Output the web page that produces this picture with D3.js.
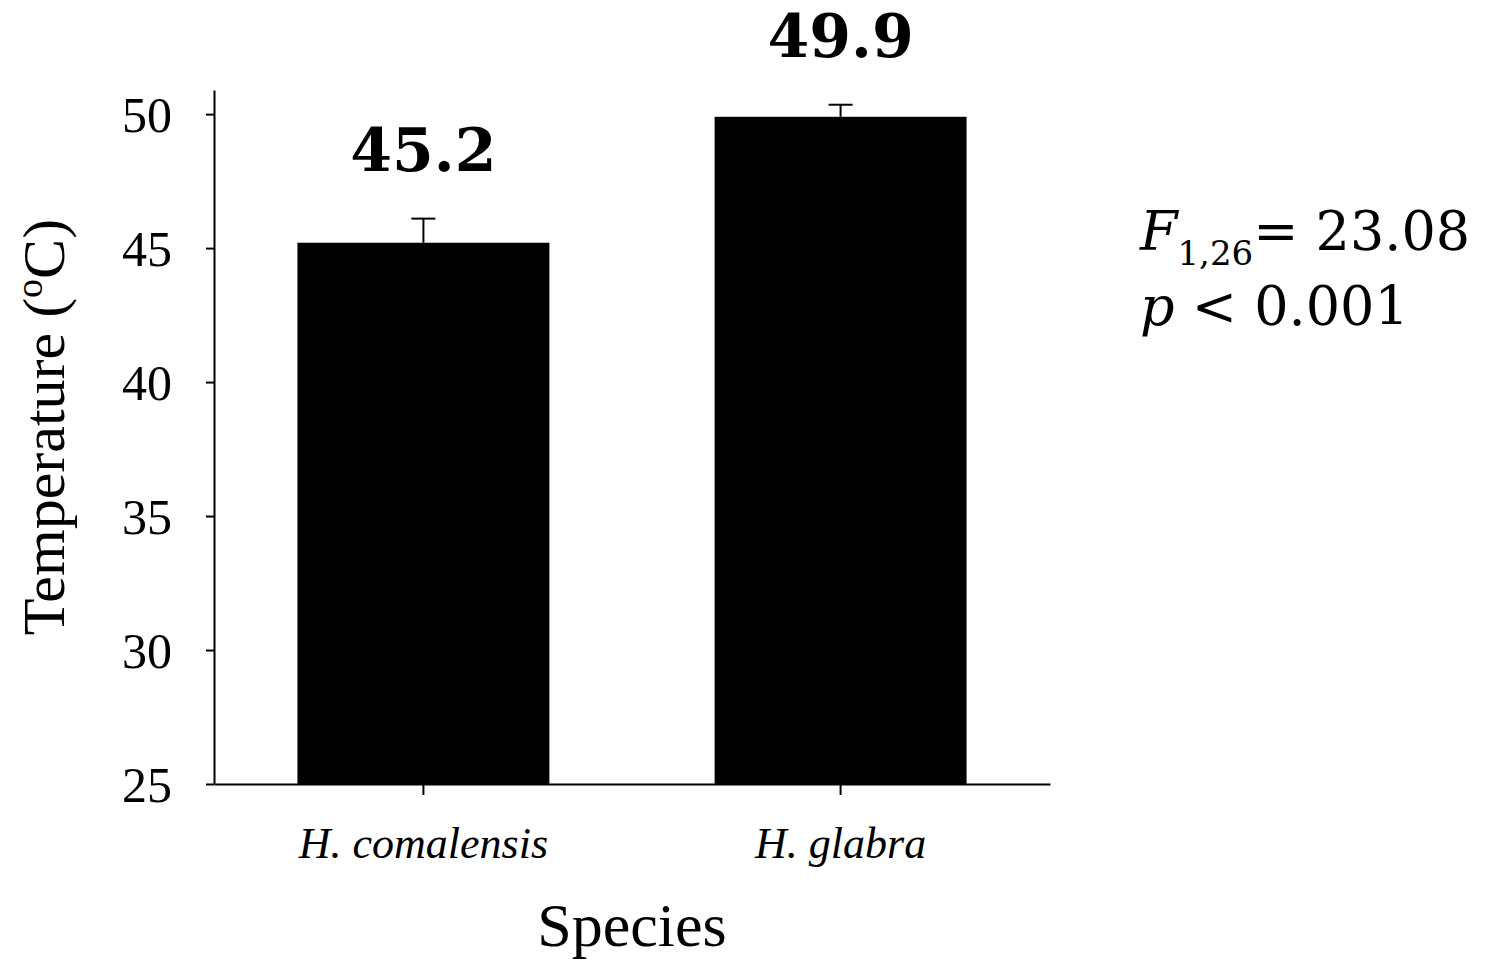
<!DOCTYPE html>
<html>
<head>
<meta charset="utf-8">
<script src="https://cdnjs.cloudflare.com/ajax/libs/d3/7.8.5/d3.min.js"></script>
<style>
  body { margin: 0; background: #fff; }
  svg { display: block; }
</style>
</head>
<body>
<div id="chart"></div>
<script>
// Data
const species = ['H. comalensis', 'H. glabra'];
const means = [45.2, 49.9];
const errors = [0.9, 0.45];
const yTicks = [25, 30, 35, 40, 45, 50];

const width = 1498, height = 960;

const svg = d3.select('#chart')
  .append('svg')
  .attr('width', width)
  .attr('height', height);

// Scales
const x = d3.scaleBand()
  .domain(species)
  .range([214, 1050])
  .paddingInner(0.396)
  .paddingOuter(0.2);

const y = d3.scaleLinear()
  .domain([25, 50.9])
  .range([784, 90]);

// Bars
svg.append('g')
  .selectAll('rect')
  .data(means)
  .join('rect')
  .attr('x', (d, i) => x(species[i]))
  .attr('y', d => y(d))
  .attr('width', x.bandwidth())
  .attr('height', d => y(25) - y(d))
  .attr('fill', '#000');

// Error bars (upper only)
const err = svg.append('g')
  .attr('stroke', '#000')
  .attr('stroke-width', 2);

means.forEach((m, i) => {
  const cx = x(species[i]) + x.bandwidth() / 2;
  err.append('line')
    .attr('x1', cx).attr('x2', cx)
    .attr('y1', y(m)).attr('y2', y(m + errors[i]));
  err.append('line')
    .attr('x1', cx - 12).attr('x2', cx + 12)
    .attr('y1', y(m + errors[i])).attr('y2', y(m + errors[i]));
});

// Value labels
svg.append('g')
  .selectAll('text')
  .data(means)
  .join('text')
  .attr('x', (d, i) => x(species[i]) + x.bandwidth() / 2)
  .attr('y', (d, i) => y(d + errors[i]) - 48)
  .attr('text-anchor', 'middle')
  .attr('font-family', 'DejaVu Serif')
  .attr('font-weight', 'bold')
  .attr('font-size', 60)
  .text(d => d.toFixed(1));

// Y axis
const yAxis = svg.append('g')
  .attr('transform', 'translate(214,0)')
  .call(d3.axisLeft(y).tickValues(yTicks).tickSize(8).tickSizeOuter(0).tickPadding(34));

// X axis
const xAxis = svg.append('g')
  .attr('transform', `translate(0,${y(25)})`)
  .call(d3.axisBottom(x).tickSize(11).tickSizeOuter(0).tickPadding(32));

[yAxis, xAxis].forEach(a => {
  a.select('.domain').attr('stroke', '#000').attr('stroke-width', 2);
  a.selectAll('.tick line').attr('stroke', '#000').attr('stroke-width', 2);
});

yAxis.selectAll('.tick text')
  .attr('font-family', 'Liberation Serif')
  .attr('font-size', 50)
  .attr('fill', '#000')
  .attr('dy', '0.35em');

xAxis.selectAll('.tick text')
  .attr('font-family', 'Liberation Serif')
  .attr('font-style', 'italic')
  .attr('font-size', 44)
  .attr('fill', '#000')
  .attr('dy', '0.71em');

// Axis titles
const yTitle = svg.append('text')
  .attr('transform', 'translate(64,427) rotate(-90)')
  .attr('text-anchor', 'middle')
  .attr('font-family', 'Liberation Serif')
  .attr('font-size', 60);
yTitle.append('tspan').text('Temperature (');
yTitle.append('tspan').attr('font-size', 38).attr('dy', -22).text('o');
yTitle.append('tspan').attr('dy', 22).text('C)');

svg.append('text')
  .attr('x', 632)
  .attr('y', 946)
  .attr('text-anchor', 'middle')
  .attr('font-family', 'Liberation Serif')
  .attr('font-size', 62)
  .text('Species');

// Statistics
const stat = svg.append('g')
  .attr('font-family', 'DejaVu Serif')
  .attr('font-size', 54);

const l1 = stat.append('text').attr('x', 1140).attr('y', 250);
l1.append('tspan').attr('font-style', 'italic').text('F');
l1.append('tspan').attr('font-size', 34).attr('dy', 15).text('1,26');
l1.append('tspan').attr('dy', -15).text('= 23.08');

const l2 = stat.append('text').attr('x', 1140).attr('y', 325);
l2.append('tspan').attr('font-style', 'italic').text('p');
l2.append('tspan').text(' < 0.001');
</script>
</body>
</html>
